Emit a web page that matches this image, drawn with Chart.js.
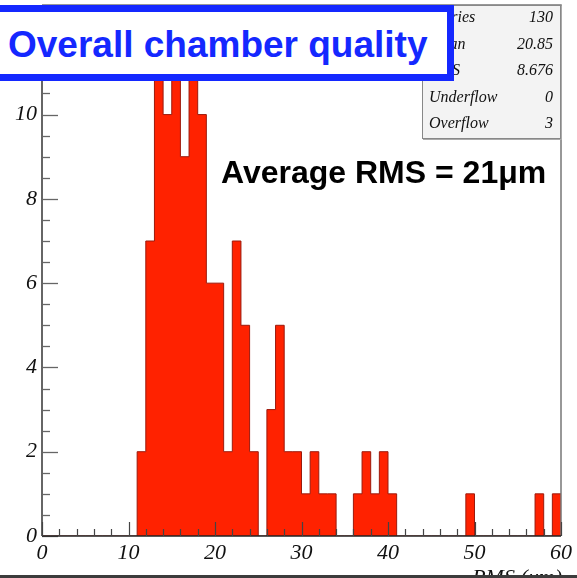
<!DOCTYPE html>
<html>
<head>
<meta charset="utf-8">
<script src="https://cdn.jsdelivr.net/npm/chart.js@4/dist/chart.umd.min.js"></script>
<style>
  html, body { margin: 0; padding: 0; background: #fff; overflow: hidden; }
  #wrap { position: relative; width: 577px; height: 578px; }
  #chart { position: absolute; left: 0; top: 0; }
  #title {
    position: absolute; left: -10px; top: 5px; width: 464px; height: 76px;
    box-sizing: border-box; border: 7px solid #1428ff; background: #fff;
    color: #1428ff; font: bold 37px "Liberation Sans", Arial, sans-serif;
    line-height: 66px; padding-left: 11px; white-space: nowrap; z-index: 3;
  }
  #stats {
    position: absolute; left: 422px; top: 5px; width: 139px; height: 134px;
    box-sizing: border-box; border: 1px solid #888; background: #f3f3f3;
    box-shadow: 1px 1px 0 #aaa; z-index: 2;
    font: italic 16px "Liberation Serif", "Times New Roman", serif; color: #111;
  }
  #stats .row { position: absolute; left: 6px; right: 7px; height: 26px; line-height: 26px; }
  #stats .row span.v { position: absolute; right: 0; }
  #avg {
    position: absolute; left: 221px; top: 156px; white-space: nowrap; z-index: 2;
    font: bold 32px "Liberation Sans", Arial, sans-serif; line-height: 32px; color: #000;
  }
  #xclip { position: absolute; left: 0; top: 560px; width: 577px; height: 15px; overflow: hidden; }
  #xtitle {
    position: absolute; right: 15px; top: 6px; white-space: nowrap;
    font: italic 22px "Liberation Serif", "Times New Roman", serif; line-height: 22px; color: #111;
  }
  #bottomline { position: absolute; left: 0; top: 575px; width: 577px; height: 3px; background: #3c3c3c; }
</style>
</head>
<body>
<div id="wrap">
  <canvas id="chart" width="577" height="578"></canvas>
  <div id="stats"></div>
  <div id="title">Overall chamber quality</div>
  <div id="avg">Average RMS = 21μm</div>
  <div id="xclip"><div id="xtitle">RMS (μm)</div></div>
  <div id="bottomline"></div>
</div>
<script>
// histogram: 60 bins of width 1 from 0 to 60
var xMin = 0;
var xMax = 60;
var binWidth = 1;
var counts = [
  0, 0, 0, 0, 0, 0, 0, 0, 0, 0,
  0, 2, 7, 11, 10, 12, 9, 11, 10, 6,
  6, 2, 7, 5, 2, 0, 3, 5, 2, 2,
  1, 2, 1, 1, 0, 0, 1, 2, 1, 2,
  1, 0, 0, 0, 0, 0, 0, 0, 0, 1,
  0, 0, 0, 0, 0, 0, 0, 1, 0, 1
];
var xTicks = [0, 10, 20, 30, 40, 50, 60];
var yTicks = [0, 2, 4, 6, 8, 10, 12];
var yMax = 12.6;

var statLabels = ["Entries", "Mean", "RMS", "Underflow", "Overflow"];
var statValues = ["130", "20.85", "8.676", "0", "3"];

// stats box rows
var statsBox = document.getElementById("stats");
var rowTops = [-2, 24.5, 51, 77.5, 104];
for (var i = 0; i < statLabels.length; i++) {
  var row = document.createElement("div");
  row.className = "row";
  row.style.top = rowTops[i] + "px";
  row.innerHTML = '<span class="l">' + statLabels[i] + '</span><span class="v">' + statValues[i] + '</span>';
  statsBox.appendChild(row);
}

// outline points at bin edges (stepped)
var histPoints = counts.map(function (c, i) {
  return { x: xMin + i * binWidth, y: c };
});
histPoints.push({ x: xMax, y: counts[counts.length - 1] });

var serif = "'Liberation Serif', 'Times New Roman', serif";

// ROOT-style inner ticks and frame
var frameTicks = {
  id: "frameTicks",
  afterDatasetsDraw: function (chart) {
    var c = chart.ctx, a = chart.chartArea;
    var sx = chart.scales.x, sy = chart.scales.y;
    c.save();
    // right / top frame
    c.strokeStyle = "#777";
    c.lineWidth = 1.5;
    c.beginPath();
    c.moveTo(a.left, a.top); c.lineTo(a.right, a.top); c.lineTo(a.right, a.bottom);
    c.stroke();
    // y axis
    c.strokeStyle = "#666";
    c.lineWidth = 2;
    c.beginPath();
    c.moveTo(a.left, a.top); c.lineTo(a.left, a.bottom);
    c.stroke();
    c.lineWidth = 1.3;
    for (var v = 0; v <= yMax + 0.001; v += 0.5) {
      var py = Math.round(sy.getPixelForValue(v)) + 0.5;
      var len = (v % 2 === 0) ? 16 : 8;
      c.beginPath(); c.moveTo(a.left, py); c.lineTo(a.left + len, py); c.stroke();
    }
    // x axis
    c.strokeStyle = "#222";
    c.lineWidth = 1.5;
    c.beginPath(); c.moveTo(a.left, a.bottom); c.lineTo(a.right, a.bottom); c.stroke();
    c.strokeStyle = "#444";
    c.lineWidth = 1.2;
    for (var u = xMin; u <= xMax; u += 2) {
      var px = Math.round(sx.getPixelForValue(u)) + 0.5;
      var l = (u % 10 === 0) ? 14 : 7;
      c.beginPath(); c.moveTo(px, a.bottom); c.lineTo(px, a.bottom - l); c.stroke();
    }
    c.restore();
  }
};

var ctx = document.getElementById("chart").getContext("2d");
var chart = new Chart(ctx, {
  type: "line",
  data: {
    datasets: [
      {
        data: histPoints,
        stepped: true,
        fill: "origin",
        backgroundColor: "#ff2200",
        borderColor: "#9c1a0c",
        borderWidth: 1,
        borderJoinStyle: "miter",
        pointRadius: 0,
        tension: 0
      }
    ]
  },
  options: {
    responsive: false,
    devicePixelRatio: 1,
    animation: false,
    layout: { padding: { top: 5, right: 16, left: 0, bottom: 0 } },
    plugins: { legend: { display: false }, tooltip: { enabled: false } },
    scales: {
      x: {
        type: "linear",
        min: xMin,
        max: xMax,
        afterBuildTicks: function (s) { s.ticks = xTicks.map(function (v) { return { value: v }; }); },
        afterFit: function (s) { s.height = 42; },
        grid: { display: false, drawTicks: false },
        border: { display: false },
        ticks: {
          padding: 4,
          maxRotation: 0,
          color: "#111",
          font: { family: serif, size: 22, style: "italic" }
        }
      },
      y: {
        type: "linear",
        min: 0,
        max: yMax,
        afterBuildTicks: function (s) { s.ticks = yTicks.map(function (v) { return { value: v }; }); },
        afterFit: function (s) { s.width = 42; s.paddingTop = 0; s.paddingBottom = 0; },
        grid: { display: false, drawTicks: false },
        border: { display: false },
        ticks: {
          padding: 5,
          color: "#111",
          font: { family: serif, size: 22, style: "italic" }
        }
      }
    }
  },
  plugins: [frameTicks]
});
</script>
</body>
</html>
